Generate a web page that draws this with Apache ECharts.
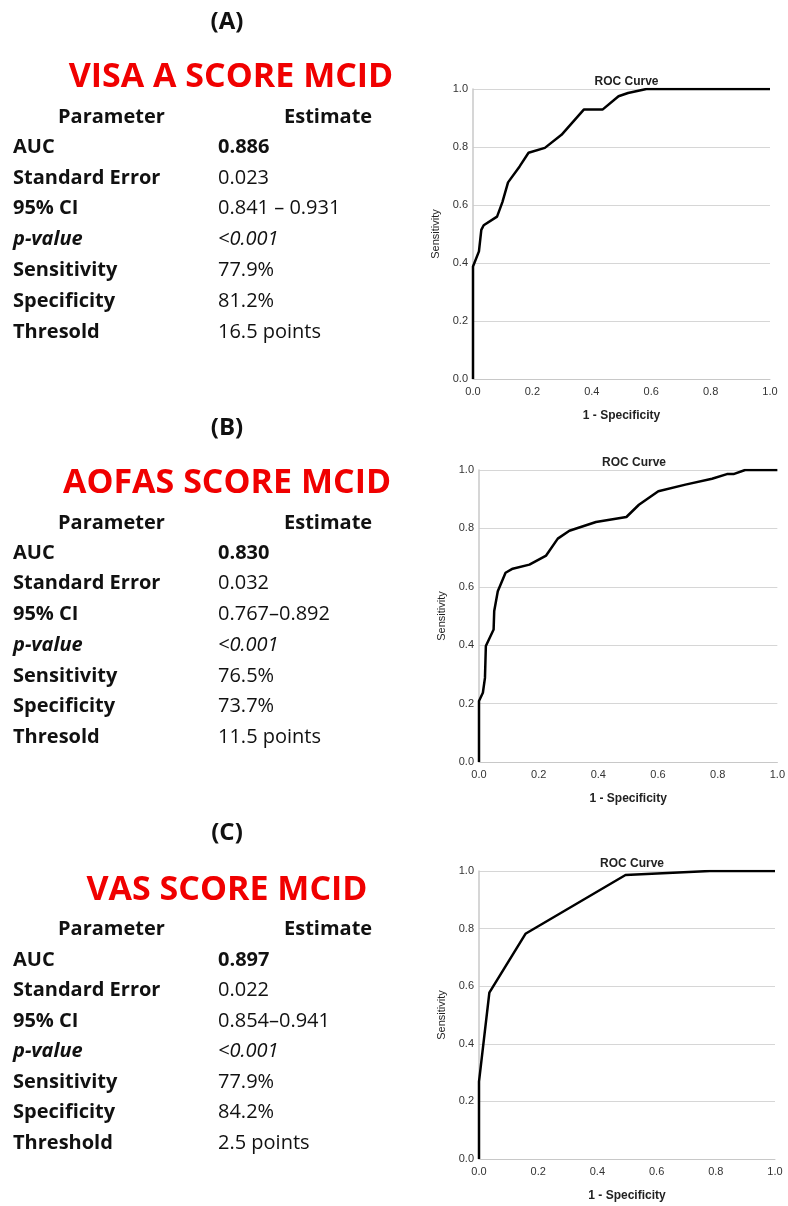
<!DOCTYPE html>
<html>
<head>
<meta charset="utf-8">
<script src="https://cdn.jsdelivr.net/npm/echarts@6/dist/echarts.min.js"></script>
<style>
  html, body { margin: 0; padding: 0; background: #fff; }
  #main { width: 788px; height: 1206px; }
</style>
</head>
<body>
<div id="main"></div>
<script>
// ROC curve points (1 - specificity, sensitivity)
var fprA = [0, 0, 0.02, 0.028, 0.036, 0.081, 0.099, 0.118, 0.157, 0.187, 0.242, 0.298, 0.373, 0.436, 0.49, 0.522, 0.584, 1];
var tprA = [0, 0.388, 0.44, 0.514, 0.53, 0.56, 0.61, 0.678, 0.733, 0.78, 0.797, 0.842, 0.929, 0.929, 0.975, 0.986, 1, 1];

var fprB = [0, 0, 0.013, 0.02, 0.023, 0.049, 0.051, 0.063, 0.089, 0.113, 0.169, 0.225, 0.264, 0.303, 0.392, 0.494, 0.536, 0.601, 0.692, 0.781, 0.831, 0.853, 0.892, 1];
var tprB = [0, 0.209, 0.237, 0.288, 0.397, 0.454, 0.517, 0.585, 0.648, 0.662, 0.676, 0.707, 0.765, 0.792, 0.822, 0.839, 0.881, 0.927, 0.95, 0.97, 0.986, 0.986, 1, 1];

var fprC = [0, 0, 0.035, 0.157, 0.495, 0.78, 1];
var tprC = [0, 0.269, 0.578, 0.782, 0.986, 1, 1];

// table text
var panelTags = ['(A)', '(B)', '(C)'];
var panelTitles = ['VISA A SCORE MCID', 'AOFAS SCORE MCID', 'VAS SCORE MCID'];
var paramsAB = ['AUC', 'Standard Error', '95% CI', 'p-value', 'Sensitivity', 'Specificity', 'Thresold'];
var paramsC = ['AUC', 'Standard Error', '95% CI', 'p-value', 'Sensitivity', 'Specificity', 'Threshold'];
var estimatesA = ['0.886', '0.023', '0.841 \u2013 0.931', '<0.001', '77.9%', '81.2%', '16.5 points'];
var estimatesB = ['0.830', '0.032', '0.767\u20130.892', '<0.001', '76.5%', '73.7%', '11.5 points'];
var estimatesC = ['0.897', '0.022', '0.854\u20130.941', '<0.001', '77.9%', '84.2%', '2.5 points'];

function zip(xs, ys) {
  return xs.map(function (x, i) { return [x, ys[i]]; });
}

var chart = echarts.init(document.getElementById('main'));

var FONT = '"Open Sans", Lato, sans-serif';
var AXFONT = '"Liberation Sans", Arial, sans-serif';
var panels = [
  { tag: panelTags[0], title: panelTitles[0], params: paramsAB, est: estimatesA, tagY: 22, titleY: 77, titleX: 231, headY: 117, rowY: 147, rowGap: 30.8,
    grid: { left: 473, top: 89, width: 297, height: 290 }, data: zip(fprA, tprA) },
  { tag: panelTags[1], title: panelTitles[1], params: paramsAB, est: estimatesB, tagY: 428, titleY: 483, titleX: 227, headY: 523, rowY: 553, rowGap: 30.7,
    grid: { left: 479, top: 470, width: 300, height: 292 }, data: zip(fprB, tprB) },
  { tag: panelTags[2], title: panelTitles[2], params: paramsC, est: estimatesC, tagY: 833, titleY: 890, titleX: 227, headY: 929, rowY: 960, rowGap: 30.5,
    grid: { left: 479, top: 871, width: 296, height: 288 }, data: zip(fprC, tprC) }
];

var graphics = [];
var grids = [], xAxes = [], yAxes = [], series = [], titles = [];

panels.forEach(function (p, i) {
  graphics.push({ type: 'text', x: 227, y: p.tagY, style: { text: p.tag, font: 'bold 24px ' + FONT, fill: '#111', align: 'center', verticalAlign: 'middle' } });
  graphics.push({ type: 'text', x: p.titleX, y: p.titleY, style: { text: p.title, font: 'bold 34px ' + FONT, fill: '#f00000', align: 'center', verticalAlign: 'middle' } });
  graphics.push({ type: 'text', x: 58, y: p.headY, style: { text: 'Parameter', font: 'bold 20px ' + FONT, fill: '#111', verticalAlign: 'middle' } });
  graphics.push({ type: 'text', x: 284, y: p.headY, style: { text: 'Estimate', font: 'bold 20px ' + FONT, fill: '#111', verticalAlign: 'middle' } });
  p.params.forEach(function (name, r) {
    var y = p.rowY + r * p.rowGap;
    var pf = (name === 'p-value' ? 'italic bold 20px ' : 'bold 20px ') + FONT;
    var vf = (r === 0 ? 'bold 20px ' : (name === 'p-value' ? 'italic 20px ' : '20px ')) + FONT;
    graphics.push({ type: 'text', x: 13, y: y, style: { text: name, font: pf, fill: '#111', verticalAlign: 'middle' } });
    graphics.push({ type: 'text', x: 218, y: y, style: { text: p.est[r], font: vf, fill: '#111', verticalAlign: 'middle' } });
  });

  grids.push(p.grid);
  titles.push({
    text: 'ROC Curve',
    left: p.grid.left + p.grid.width / 2,
    top: p.grid.top - 18,
    textAlign: 'center',
    textStyle: { fontSize: 12, fontWeight: 'bold', color: '#222', fontFamily: AXFONT }
  });
  xAxes.push({
    type: 'value', gridIndex: i, min: 0, max: 1, interval: 0.2,
    name: '1 - Specificity', nameLocation: 'middle', nameGap: 31,
    nameTextStyle: { fontSize: 12, fontWeight: 'bold', color: '#222', fontFamily: AXFONT },
    axisLine: { show: true, lineStyle: { color: '#c8c8c8', width: 1 } },
    axisTick: { show: false },
    splitLine: { show: false },
    axisLabel: { fontSize: 11, color: '#333', margin: 7, fontFamily: AXFONT,
      formatter: function (v) { return v.toFixed(1); } }
  });
  yAxes.push({
    type: 'value', gridIndex: i, min: 0, max: 1, interval: 0.2,
    name: 'Sensitivity', nameLocation: 'middle', nameGap: 32, nameRotate: 90,
    nameTextStyle: { fontSize: 11, color: '#222', fontFamily: AXFONT },
    axisLine: { show: true, lineStyle: { color: '#c8c8c8', width: 1.5 } },
    axisTick: { show: false },
    splitLine: { show: true, lineStyle: { color: '#d6d6d6', width: 1 } },
    axisLabel: { fontSize: 11, color: '#333', margin: 5, fontFamily: AXFONT,
      formatter: function (v) { return v.toFixed(1); } }
  });
  series.push({
    type: 'line', xAxisIndex: i, yAxisIndex: i,
    data: p.data, showSymbol: false, smooth: false,
    lineStyle: { color: '#000', width: 2.5 },
    animation: false
  });
});

chart.setOption({
  backgroundColor: '#fff',
  animation: false,
  title: titles,
  grid: grids,
  xAxis: xAxes,
  yAxis: yAxes,
  series: series,
  graphic: graphics
});
</script>
</body>
</html>
